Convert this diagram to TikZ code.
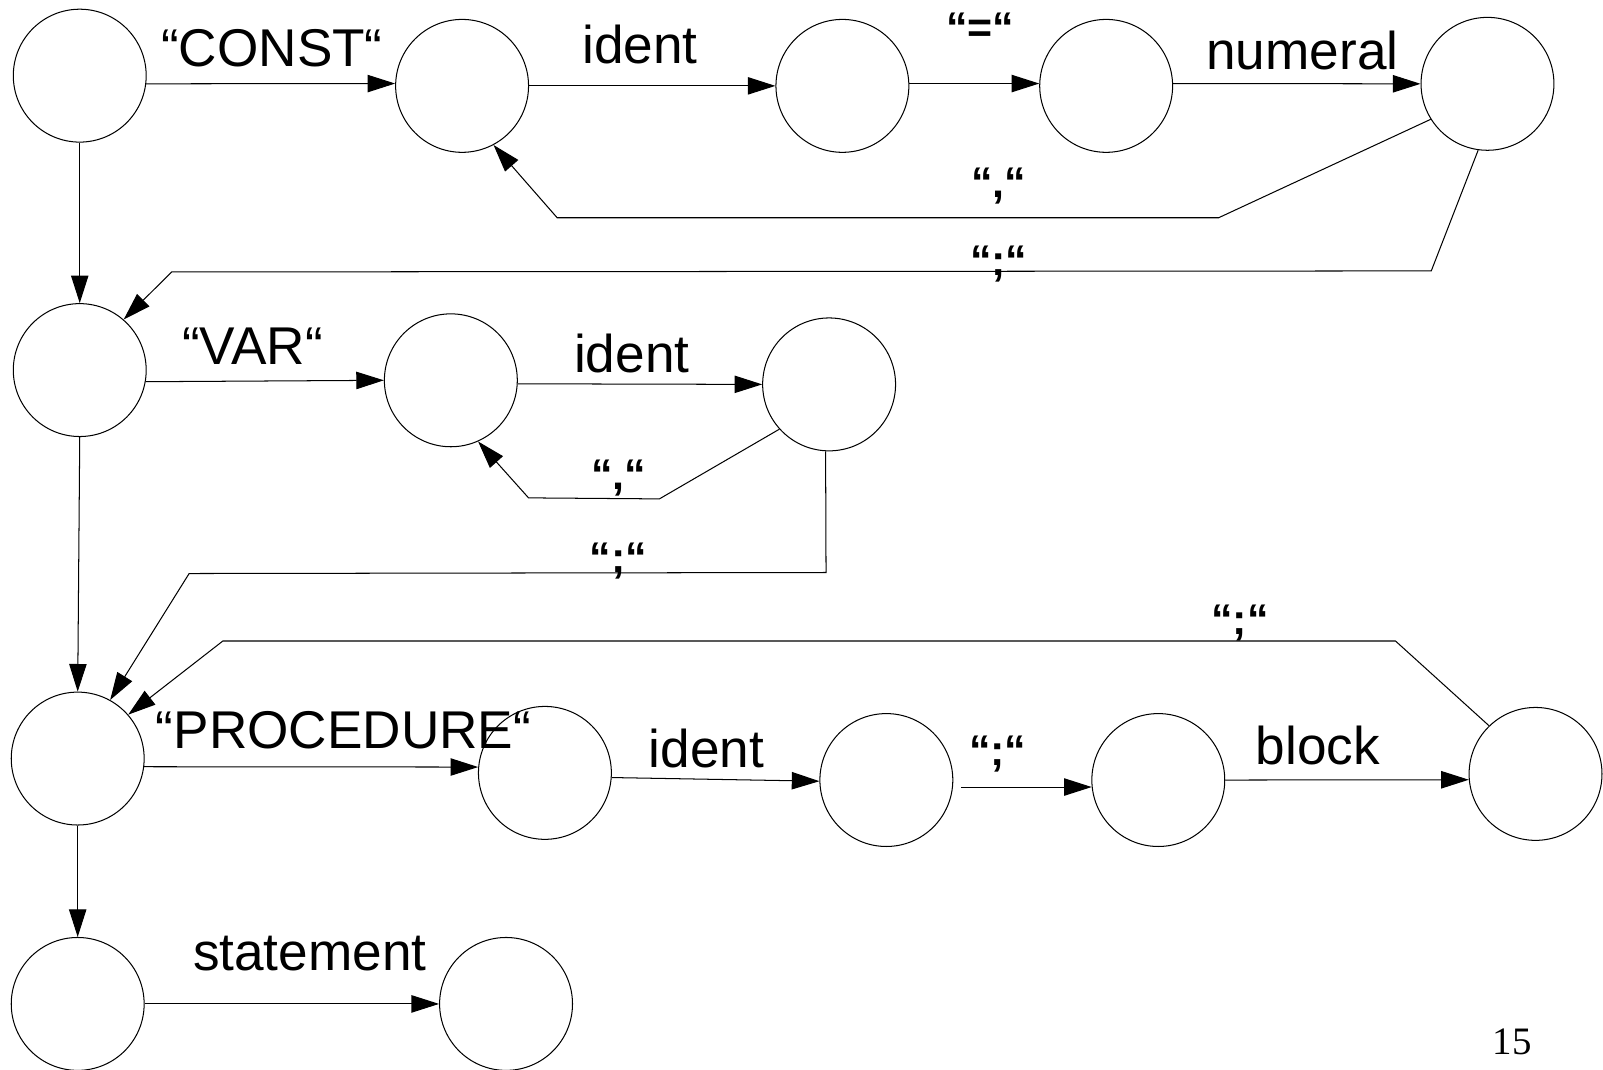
\documentclass[tikz,border=0pt]{standalone}
\usepackage{fontspec}
\setmainfont{Liberation Sans}
\newfontfamily\pagefont{Liberation Serif}
\usetikzlibrary{arrows.meta,positioning}

\begin{document}
\begin{tikzpicture}[->,>={Triangle[length=27pt,width=17pt]},line width=1pt,x=1pt,y=-1pt,
    state/.style={circle,draw,minimum size=130pt,inner sep=0pt},
    word/.style={anchor=base,inner sep=0pt,font=\fontsize{52}{60}\selectfont},
    sym/.style={anchor=base,inner sep=0pt,font=\fontsize{42}{48}\selectfont\bfseries},
    pagenum/.style={anchor=base,inner sep=0pt,font=\pagefont\fontsize{38}{44}\selectfont}]
    \useasboundingbox (0,0) rectangle (1568,1046);

    % const part
    \node[state] (A1) at (78,74) {};
    \node[state] (A2) [right of=A1,node distance=374pt,yshift=-10pt] {};
    \node[state] (A3) [right of=A2,node distance=372pt] {};
    \node[state] (A4) [right of=A3,node distance=258pt] {};
    \node[state] (A5) [right of=A4,node distance=373pt,yshift=2pt] {};
    % var part
    \node[state] (B1) [below of=A1,node distance=288pt] {};
    \node[state] (B2) [right of=B1,node distance=363pt,yshift=-10pt] {};
    \node[state] (B3) [right of=B2,node distance=370pt,yshift=-4pt] {};
    % procedure part
    \node[state] (C1) [below of=B1,node distance=380pt,xshift=-2pt] {};
    \node[state] (C2) [right of=C1,node distance=457pt,yshift=-14pt] {};
    \node[state] (C3) [right of=C2,node distance=334pt,yshift=-7pt] {};
    \node[state] (C4) [right of=C3,node distance=266pt] {};
    \node[state] (C5) [right of=C4,node distance=369pt,yshift=6pt] {};
    % statement
    \node[state] (D1) [below of=C1,node distance=240pt] {};
    \node[state] (D2) [right of=D1,node distance=419pt] {};

    \path
      (A1.-7) edge (A2.178)
      (A2.east) edge (A3.west)
      (A3.2) edge (A4.178)
      (A4.2) edge (A5.west)
      (B1.-10) edge (B2.west)
      (B2.-3) edge (B3.west)
      (C1.-7) edge (C2.175)
      (C2.-4) edge (C3.181)
      (C3.-6) edge [shorten <=8pt] (C4.186)
      (C4.east) edge (C5.185)
      (D1.east) edge (D2.west)
      (A1.south) edge (B1.north)
      (B1.south) edge (C1.north)
      (C1.south) edge (D1.north);

    \draw (A5.212) -- (1192,213) -- (545,213) -- (A2.298);
    \draw (A5.262) -- (1400,265) -- (168,266) -- (B1.49);
    \draw (B3.222) -- (645,488) -- (517,487) -- (B2.294);
    \draw (B3.267) -- (808,560) -- (185,561) -- (C1.61);
    \draw (C5.134) -- (1365,627) -- (218,627) -- (C1.41);

    \node[word] (lconst) at (266,65) {“CONST“};
    \node[word] (lidentA) at (626,62) {ident};
    \node[sym] (leq) at (959,42) {“=“};
    \node[word] (lnumeral) at (1274,68) {numeral};
    \node[sym] (lcommaA) at (977,193) {“,“};
    \node[sym] (lsemiA) at (977,269) {“;“};
    \node[word] (lvar) at (247,357) {“VAR“};
    \node[word] (lidentB) at (618,364) {ident};
    \node[sym] (lcommaB) at (605,479) {“,“};
    \node[sym] (lsemiB) at (605,560) {“;“};
    \node[sym] (lsemiC) at (1213,621) {“;“};
    \node[word] (lproc) at (336,732) {“PROCEDURE“};
    \node[word] (lidentC) at (691,751) {ident};
    \node[sym] (lsemiD) at (976,749) {“;“};
    \node[word] (lblock) at (1289,748) {block};
    \node[word] (lstatement) at (303,949) {statement};
    \node[pagenum] (page) at (1479,1031) {15};
\end{tikzpicture}
\end{document}
